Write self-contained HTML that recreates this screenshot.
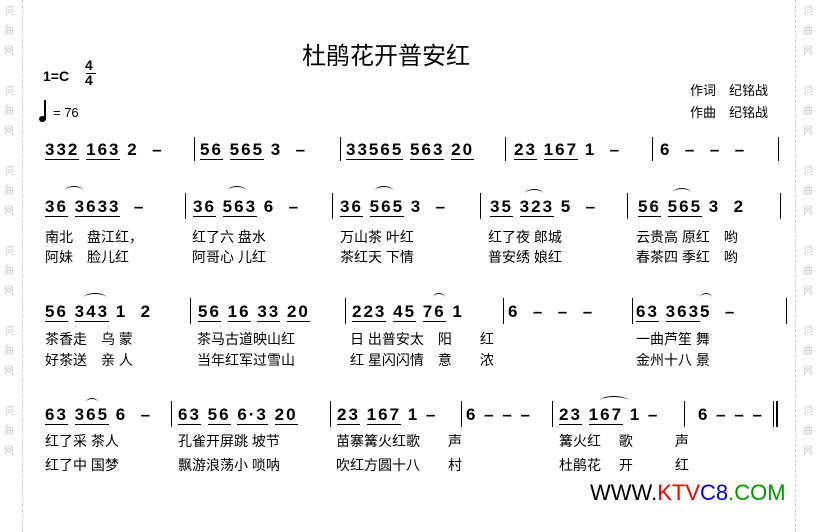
<!DOCTYPE html>
<html><head><meta charset="utf-8"><style>
body{margin:0;width:817px;height:532px;background:#fff;position:relative;overflow:hidden;font-family:"Liberation Sans","Noto Sans CJK SC",sans-serif;}
.a{position:absolute;white-space:pre;}
.n{position:absolute;white-space:pre;font:bold 17px "Liberation Sans",sans-serif;letter-spacing:2px;color:#000;}
.u{border-bottom:1px solid #000;}
.l{position:absolute;white-space:pre;font-size:14px;color:#000;font-family:"Liberation Sans","Noto Sans CJK SC",sans-serif;}
.b{position:absolute;width:1px;background:#000;}
.w{position:absolute;width:14px;font-size:10px;color:#ccc;line-height:20px;text-align:center;font-family:"Noto Sans CJK SC",sans-serif;}
.d{position:absolute;top:0;height:532px;border-left:1px dashed #ccc;}
.arc{position:absolute;border-top:1px solid #000;border-radius:50% 50% 0 0;height:8px;}
</style></head><body>
<div class="d" style="left:22px"></div><div class="d" style="left:795px"></div>
<div class="w" style="left:2px;top:0">词<br>曲<br>网<br><br>词<br>曲<br>网<br><br>词<br>曲<br>网<br><br>词<br>曲<br>网<br><br>词<br>曲<br>网<br><br>词<br>曲<br>网</div>
<div class="w" style="left:801px;top:0">词<br>曲<br>网<br><br>词<br>曲<br>网<br><br>词<br>曲<br>网<br><br>词<br>曲<br>网<br><br>词<br>曲<br>网<br><br>词<br>曲<br>网</div>

<div class="a" style="left:302px;top:36px;font-size:24px;">杜鹃花开普安红</div>
<div class="a" style="left:43px;top:68px;font-size:14px;font-weight:bold">1=C</div>
<div class="a" style="left:85px;top:58px;font-size:14px;font-weight:bold;line-height:15px;text-align:center">4<br>4</div>
<div class="a" style="left:86px;top:73px;width:10px;border-top:1px solid #000"></div>
<div class="a" style="left:44px;top:100px;width:2px;height:20px;background:#000"></div>
<div class="a" style="left:39px;top:116px;width:7px;height:6px;border-radius:50%;background:#000"></div>
<div class="a" style="left:53px;top:105px;font-size:13px">= 76</div>
<div class="a" style="left:690px;top:80px;font-size:13px">作词　纪铭战</div>
<div class="a" style="left:690px;top:102px;font-size:13px">作曲　纪铭战</div>

<!-- row1 -->
<div class="n" style="left:45px;top:140px"><span class="u">332</span> <span class="u">163</span> 2  –</div>
<div class="n" style="left:200px;top:140px"><span class="u">56</span> <span class="u">565</span> 3  –</div>
<div class="n" style="left:346px;top:140px"><span class="u">335</span><span class="u">65</span> <span class="u">563</span> <span class="u">20</span></div>
<div class="n" style="left:514px;top:140px"><span class="u">23</span> <span class="u">167</span> 1  –</div>
<div class="n" style="left:660px;top:140px">6  –  –  –</div>
<div class="b" style="left:194px;top:137px;height:24px"></div><div class="b" style="left:340px;top:137px;height:24px"></div><div class="b" style="left:505px;top:137px;height:24px"></div><div class="b" style="left:652px;top:137px;height:24px"></div><div class="b" style="left:778px;top:137px;height:24px"></div>

<!-- row2 -->
<div class="n" style="left:45px;top:197px"><span class="u">36</span> <span class="u">3633</span>  –</div>
<div class="n" style="left:193px;top:197px"><span class="u">36</span> <span class="u">563</span> 6  –</div>
<div class="n" style="left:340px;top:197px"><span class="u">36</span> <span class="u">565</span> 3  –</div>
<div class="n" style="left:490px;top:197px"><span class="u">35</span> <span class="u">323</span> 5  –</div>
<div class="n" style="left:638px;top:197px"><span class="u">56</span> <span class="u">565</span> 3  2</div>
<div class="arc" style="left:65px;top:186px;width:18px"></div><div class="arc" style="left:228px;top:186px;width:18px"></div><div class="arc" style="left:375px;top:186px;width:18px"></div><div class="arc" style="left:525px;top:189px;width:18px"></div><div class="arc" style="left:673px;top:188px;width:18px"></div>
<div class="b" style="left:185px;top:193px;height:26px"></div><div class="b" style="left:332px;top:193px;height:26px"></div><div class="b" style="left:480px;top:193px;height:26px"></div><div class="b" style="left:627px;top:193px;height:26px"></div><div class="b" style="left:780px;top:193px;height:26px"></div>
<div class="l" style="left:45px;top:227px">南北　盘江红，</div><div class="l" style="left:45px;top:247px">阿妹　脸儿红</div>
<div class="l" style="left:192px;top:227px">红了六 盘水</div><div class="l" style="left:192px;top:247px">阿哥心 儿红</div>
<div class="l" style="left:340px;top:227px">万山茶 叶红</div><div class="l" style="left:340px;top:247px">茶红天 下情</div>
<div class="l" style="left:488px;top:227px">红了夜 郎城</div><div class="l" style="left:488px;top:247px">普安绣 娘红</div>
<div class="l" style="left:636px;top:227px">云贵高 原红　哟</div><div class="l" style="left:636px;top:247px">春茶四 季红　哟</div>

<!-- row3 -->
<div class="n" style="left:45px;top:302px"><span class="u">56</span> <span class="u">343</span> 1  2</div>
<div class="n" style="left:198px;top:302px"><span class="u">56</span> <span class="u">16</span> <span class="u">33</span> <span class="u">20</span></div>
<div class="n" style="left:352px;top:302px"><span class="u">223</span> <span class="u">45</span> <span class="u">76</span> 1</div>
<div class="n" style="left:508px;top:302px">6  –  –  –</div>
<div class="n" style="left:636px;top:302px"><span class="u">63</span> <span class="u">363</span>5  –</div>
<div class="arc" style="left:84px;top:293px;width:22px"></div><div class="arc" style="left:433px;top:293px;width:12px"></div><div class="arc" style="left:700px;top:293px;width:12px"></div>
<div class="b" style="left:190px;top:298px;height:26px"></div><div class="b" style="left:345px;top:298px;height:26px"></div><div class="b" style="left:503px;top:298px;height:26px"></div><div class="b" style="left:632px;top:298px;height:26px"></div><div class="b" style="left:786px;top:298px;height:26px"></div>
<div class="l" style="left:45px;top:329px">茶香走　乌 蒙</div><div class="l" style="left:45px;top:350px">好茶送　亲 人</div>
<div class="l" style="left:197px;top:329px">茶马古道映山红</div><div class="l" style="left:197px;top:350px">当年红军过雪山</div>
<div class="l" style="left:350px;top:329px">日 出普安太　阳　　红</div><div class="l" style="left:350px;top:350px">红 星闪闪情　意　　浓</div>
<div class="l" style="left:636px;top:329px">一曲芦笙 舞</div><div class="l" style="left:636px;top:350px">金州十八 景</div>

<!-- row4 -->
<div class="n" style="left:45px;top:405px"><span class="u">63</span> <span class="u">365</span> 6  –</div>
<div class="n" style="left:178px;top:405px"><span class="u">63</span> <span class="u">56</span> <span class="u">6·3</span> <span class="u">20</span></div>
<div class="n" style="left:337px;top:405px"><span class="u">23</span> <span class="u">167</span> 1 –</div>
<div class="n" style="left:466px;top:405px">6 – – –</div>
<div class="n" style="left:559px;top:405px"><span class="u">23</span> <span class="u">167</span> 1 –</div>
<div class="n" style="left:698px;top:405px">6 – – –</div>
<div class="arc" style="left:86px;top:398px;width:12px"></div><div class="arc" style="left:600px;top:396px;width:28px"></div>
<div class="b" style="left:171px;top:401px;height:26px"></div><div class="b" style="left:330px;top:401px;height:26px"></div><div class="b" style="left:461px;top:401px;height:26px"></div><div class="b" style="left:552px;top:401px;height:26px"></div><div class="b" style="left:684px;top:401px;height:26px"></div><div class="b" style="left:773px;top:401px;height:26px"></div><div class="b" style="left:776px;top:401px;height:26px;width:2px"></div>
<div class="l" style="left:45px;top:431px">红了采 茶人</div><div class="l" style="left:45px;top:455px">红了中 国梦</div>
<div class="l" style="left:178px;top:431px">孔雀开屏跳 坡节</div><div class="l" style="left:178px;top:455px">飘游浪荡小 唢呐</div>
<div class="l" style="left:336px;top:431px">苗寨篝火红歌　　声</div><div class="l" style="left:336px;top:455px">吹红方圆十八　　村</div>
<div class="l" style="left:559px;top:431px">篝火红　 歌　　　声</div><div class="l" style="left:559px;top:455px">杜鹃花　 开　　　红</div>

<div class="a" style="left:590px;top:480px;font:22px 'Liberation Sans',sans-serif;letter-spacing:0px"><span style="color:#000">WWW.</span><span style="color:#e00">KTV</span><span style="color:#00c">C8</span><span style="color:#090">.COM</span></div>
</body></html>
